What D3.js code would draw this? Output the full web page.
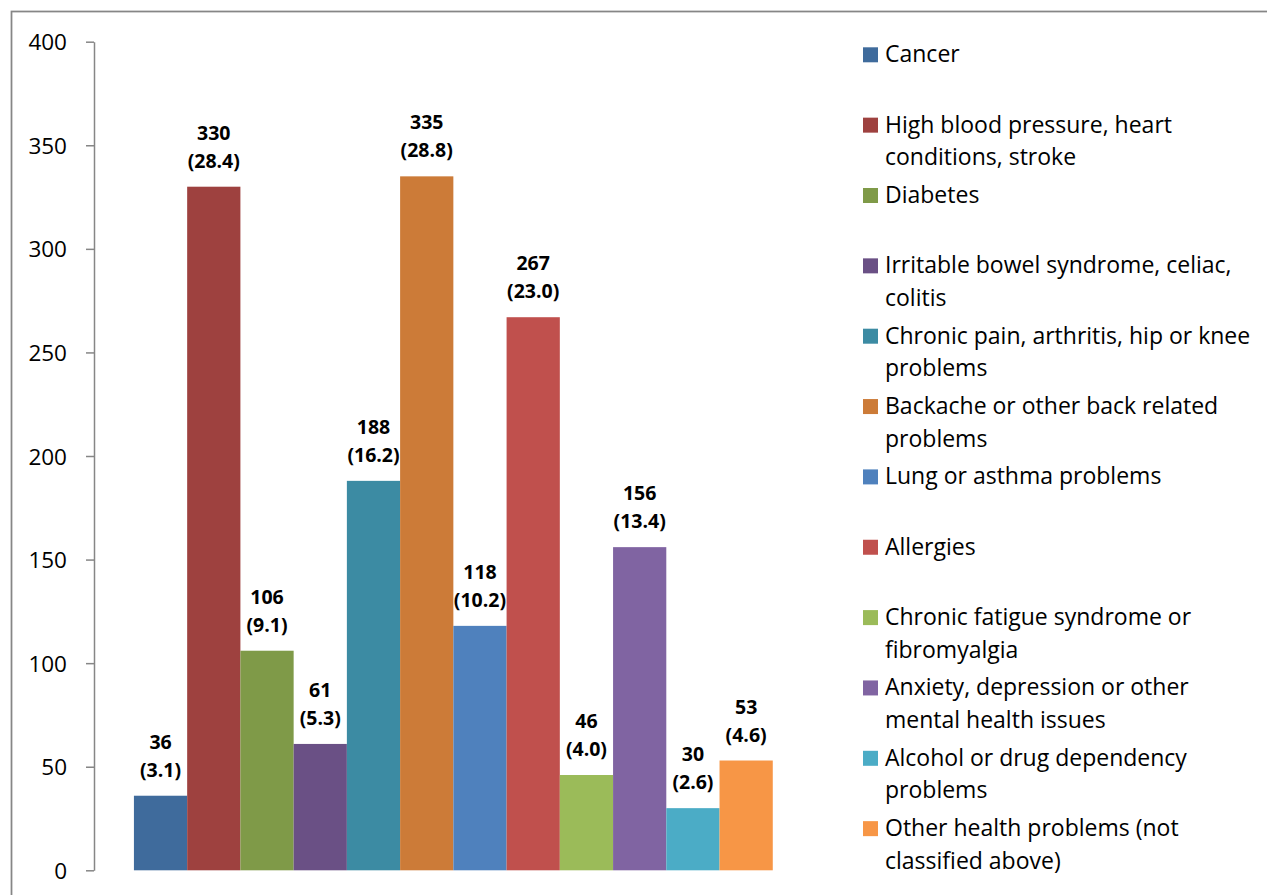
<!DOCTYPE html>
<html>
<head>
<meta charset="utf-8">
<script src="https://cdnjs.cloudflare.com/ajax/libs/d3/7.8.5/d3.min.js"></script>
<style>
  html, body { margin: 0; padding: 0; background: #fff; }
  svg { display: block; font-family: "Open Sans", "Liberation Sans", sans-serif; }
</style>
</head>
<body>
<svg id="chart" width="1267" height="895"></svg>
<script>
// Health conditions reported: number of respondents and share (%)
const categories = [
  "Cancer",
  "High blood pressure, heart conditions, stroke",
  "Diabetes",
  "Irritable bowel syndrome, celiac, colitis",
  "Chronic pain, arthritis, hip or knee problems",
  "Backache or other back related problems",
  "Lung or asthma problems",
  "Allergies",
  "Chronic fatigue syndrome or fibromyalgia",
  "Anxiety, depression or other mental health issues",
  "Alcohol or drug dependency problems",
  "Other health problems (not classified above)"
];
const counts = [36, 330, 106, 61, 188, 335, 118, 267, 46, 156, 30, 53];
const percents = ["3.1", "28.4", "9.1", "5.3", "16.2", "28.8", "10.2", "23.0", "4.0", "13.4", "2.6", "4.6"];
const yTicks = [0, 50, 100, 150, 200, 250, 300, 350, 400];
const colors = [
  "#3F6B9C", "#9E413F", "#7F9A48", "#6A5085", "#3C8BA3", "#CC7B38",
  "#4F81BD", "#C0504D", "#9BBB59", "#8064A2", "#4BACC6", "#F79646"
];

const svg = d3.select("#chart");

// outer chart frame (runs off the right and bottom edges)
svg.append("rect")
  .attr("x", 11.5).attr("y", 11.5)
  .attr("width", 1300).attr("height", 900)
  .attr("fill", "none")
  .attr("stroke", "#868686")
  .attr("stroke-width", 1.75);

const plot = { left: 94, right: 812.7, top: 41.7, bottom: 870.3 };

const x = d3.scaleBand()
  .domain(categories)
  .range([plot.left, plot.right])
  .paddingInner(0)
  .paddingOuter(0.75);

const y = d3.scaleLinear()
  .domain([0, 400])
  .range([plot.bottom, plot.top]);

// value axis
const yAxis = d3.axisLeft(y)
  .tickValues(yTicks)
  .tickSize(8)
  .tickPadding(19)
  .tickSizeOuter(0);

const gy = svg.append("g")
  .attr("transform", `translate(${plot.left},0)`)
  .call(yAxis);
gy.select(".domain").attr("stroke", "#868686").attr("stroke-width", 1.5);
gy.selectAll(".tick line").attr("stroke", "#868686").attr("stroke-width", 1.5);
gy.selectAll(".tick text")
  .attr("font-size", 22.5)
  .attr("font-family", "'Open Sans', sans-serif")
  .attr("fill", "#000")
  .attr("dy", "0.36em");

// bars
const data = categories.map((c, i) => ({ cat: c, value: counts[i], pct: percents[i], color: colors[i] }));

svg.append("g").selectAll("rect")
  .data(data)
  .join("rect")
  .attr("x", d => x(d.cat))
  .attr("y", d => y(d.value))
  .attr("width", x.bandwidth())
  .attr("height", d => y(0) - y(d.value))
  .attr("fill", d => d.color);

// value labels: count over (percent)
const labels = svg.append("g")
  .attr("font-weight", "bold")
  .attr("font-size", 19.5)
  .attr("fill", "#000")
  .attr("text-anchor", "middle");

labels.selectAll("text.count")
  .data(data)
  .join("text")
  .attr("class", "count")
  .attr("x", d => x(d.cat) + x.bandwidth() / 2)
  .attr("y", d => y(d.value) - 47)
  .text(d => d.value);

labels.selectAll("text.pct")
  .data(data)
  .join("text")
  .attr("class", "pct")
  .attr("x", d => x(d.cat) + x.bandwidth() / 2)
  .attr("y", d => y(d.value) - 19)
  .text(d => `(${d.pct})`);

// legend
const legend = svg.append("g").attr("font-size", 23).attr("fill", "#000");
const legendX = 863, legendTextX = 885, legendFirst = 62.3, legendStep = 70.35, lineH = 32.5, maxW = 375;

function wrapInto(textSel, str) {
  const words = str.split(" ");
  let line = [];
  let tspan = textSel.append("tspan").attr("x", legendTextX).attr("dy", 0);
  for (const w of words) {
    line.push(w);
    tspan.text(line.join(" "));
    if (tspan.node().getComputedTextLength() > maxW && line.length > 1) {
      line.pop();
      tspan.text(line.join(" "));
      line = [w];
      tspan = textSel.append("tspan").attr("x", legendTextX).attr("dy", lineH).text(w);
    }
  }
}

data.forEach((d, i) => {
  const base = legendFirst + i * legendStep;
  legend.append("rect")
    .attr("x", legendX).attr("y", base - 15)
    .attr("width", 15).attr("height", 15)
    .attr("fill", d.color);
  const t = legend.append("text").attr("x", legendTextX).attr("y", base);
  wrapInto(t, d.cat);
});
</script>
</body>
</html>
